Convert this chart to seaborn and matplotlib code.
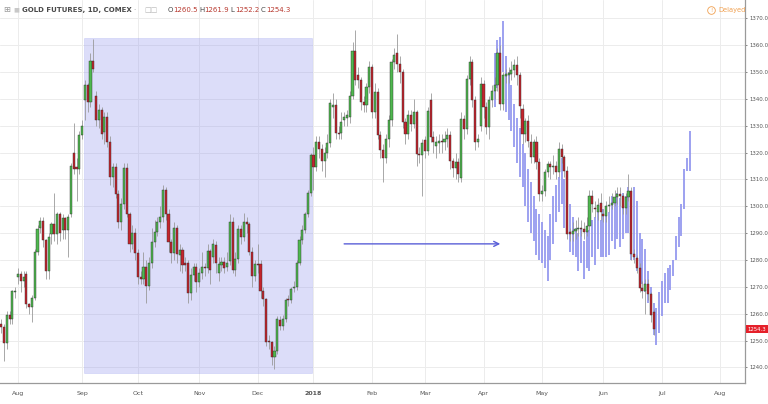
import matplotlib
matplotlib.use("Agg")
import matplotlib.pyplot as plt
import matplotlib.transforms as mtransforms
from matplotlib.lines import Line2D
from matplotlib.patches import Rectangle
import numpy as np
import pandas as pd
import seaborn as sns

# ---------------------------------------------------------------------------
# Daily OHLC, GOLD FUTURES (COMEX), first bar 2017-07-24
# ---------------------------------------------------------------------------
first_day = "2017-07-24"
holidays = ["2017-09-04", "2017-11-23", "2017-12-25", "2018-01-01", "2018-01-15",
            "2018-02-19", "2018-03-30", "2018-05-28", "2018-07-04"]

opens = [
    1256, 1255, 1249, 1259.6, 1258, 1268, 1273.5, 1274.7, 1272, 1274.7,
    1263.7, 1262.5, 1266, 1283, 1292, 1294.6, 1287.5, 1276, 1289.7, 1293.4,
    1289.7, 1297, 1291, 1295.6, 1291, 1297, 1320, 1314.5, 1314, 1326.6,
    1339.6, 1345, 1339, 1354, 1341, 1332, 1336, 1327.5, 1333.4, 1324,
    1311, 1314.6, 1304.7, 1294, 1300.7, 1314.4, 1297.3, 1286, 1290, 1282.6,
    1273.7, 1273, 1277.4, 1270.5, 1279, 1286.7, 1290.4, 1294.2, 1296, 1306.2,
    1297.3, 1286.7, 1282.6, 1292, 1282, 1283.9, 1278.7, 1278.7, 1267.6, 1274.3,
    1277.4, 1271.9, 1275.3, 1277.4, 1277, 1283.3,
    1281, 1285.7, 1275, 1278, 1279.2, 1277.5, 1279.5, 1294, 1276.3, 1280.4,
    1291.6, 1288.5, 1294, 1293.5, 1283, 1274, 1278.5, 1278.5, 1268.6, 1265.5,
    1250, 1249.3, 1243.7, 1246.2, 1257.6, 1255.5, 1258, 1265.5, 1265, 1269.5,
    1270, 1279, 1287.5, 1291.2, 1297.2, 1305, 1319, 1314.8,
    1324, 1321.5, 1317, 1320, 1323.4, 1337, 1337.6, 1327.3, 1327.3, 1332,
    1333, 1333.3, 1341, 1357.9, 1349, 1347, 1339, 1337.6, 1344.5, 1352,
    1335, 1342.6, 1326.5, 1321, 1317.8, 1325.2, 1332, 1353.8, 1357, 1353,
    1350, 1331.4, 1327, 1334, 1330.8, 1335, 1319.6,
    1319, 1324.6, 1320.6, 1339.4, 1325.9, 1322.5, 1323.5, 1324.3, 1324, 1325,
    1326.6, 1316.9, 1314.4, 1316.3, 1310.6, 1332.5, 1328.8, 1347.5, 1353.8, 1339.4,
    1324,
    1330, 1345.6, 1337, 1329.4, 1339.4, 1343, 1345, 1357, 1338, 1348.5,
    1349, 1349.4, 1350.6, 1352.5, 1348.8, 1336.3, 1326.9, 1331.9, 1323.8, 1318.2,
    1323.8, 1316.3, 1304.5, 1305.7, 1312.6, 1315.7, 1314.5, 1315, 1312.6, 1321.3,
    1318.2, 1313.2, 1290, 1289.8, 1290.8, 1291.4, 1292, 1291.5, 1290.4, 1292.7,
    1303.9, 1299.5, 1297.7, 1301.4, 1297, 1296.4, 1300, 1300.6, 1301.4, 1303.3,
    1304.5, 1303.9, 1299.5, 1303.3, 1305.7, 1282.1, 1280.9, 1277.1, 1269.7, 1268.4,
    1271, 1267.2, 1260.5,
]
highs = [
    1258, 1256, 1261, 1261, 1269, 1270, 1277, 1276, 1276, 1276,
    1264, 1267, 1284, 1293, 1296, 1296, 1288, 1290, 1294, 1305,
    1298, 1298, 1297, 1296, 1297, 1316, 1331, 1318, 1328, 1332,
    1347, 1346, 1357, 1362.4, 1343, 1338, 1337, 1335, 1335, 1326,
    1316, 1316, 1306, 1303, 1316, 1316, 1298, 1293, 1292, 1284,
    1276, 1283, 1280, 1281, 1292, 1295, 1296, 1300, 1308, 1307,
    1299, 1288, 1294, 1293, 1286, 1285, 1281, 1280, 1277, 1279,
    1279, 1277, 1283, 1279, 1286, 1284,
    1288, 1287, 1281, 1281, 1281, 1283, 1297, 1296, 1283, 1293,
    1293, 1297.6, 1296, 1294, 1285, 1280, 1286, 1280, 1270, 1266,
    1252, 1250, 1248, 1259, 1259, 1259.5, 1266, 1267, 1270, 1272,
    1280, 1289, 1293, 1298, 1306, 1320, 1322, 1326,
    1326, 1323, 1322, 1327, 1340, 1342, 1340, 1330, 1335, 1335,
    1336, 1343, 1361, 1365.6, 1352, 1348, 1341, 1346, 1354, 1353,
    1346, 1344, 1328, 1323, 1327, 1334, 1355, 1359, 1364, 1356,
    1351, 1333, 1336, 1336, 1340, 1336, 1322,
    1325, 1326, 1337, 1342, 1328, 1326, 1327, 1327, 1328, 1329,
    1328, 1318, 1320, 1318, 1335, 1334, 1349, 1356, 1355, 1341,
    1327,
    1348, 1347, 1339, 1341, 1345, 1348, 1359, 1360, 1350, 1351,
    1352, 1354, 1355, 1356, 1350, 1338, 1333, 1334, 1327, 1325,
    1326, 1318, 1308, 1314, 1317, 1317, 1319, 1317, 1324, 1323,
    1319, 1315, 1292, 1294, 1295, 1296, 1295, 1294, 1296, 1306,
    1306, 1302, 1303, 1305, 1299, 1302, 1304, 1305, 1306, 1307,
    1307, 1305, 1305, 1312, 1307, 1284, 1282, 1279, 1272, 1273,
    1273, 1268, 1261.9,
]
lows = [
    1253, 1242.5, 1247, 1256, 1256, 1266, 1271, 1268, 1270, 1262,
    1260, 1257, 1265, 1282, 1290, 1285, 1273, 1273, 1286, 1287,
    1286, 1287, 1288, 1288, 1281, 1296, 1312, 1302, 1312, 1325,
    1332, 1335, 1337, 1350, 1330, 1329, 1325, 1323, 1322, 1308,
    1307, 1303, 1292, 1291, 1299, 1296, 1283, 1284, 1280, 1271,
    1271, 1271, 1264, 1269, 1277, 1285, 1289, 1292, 1294, 1295,
    1283, 1279, 1280, 1279, 1276, 1275, 1276, 1264, 1265, 1272,
    1268, 1270, 1273, 1274, 1275, 1271,
    1279, 1275, 1272, 1276, 1275, 1276, 1278, 1275, 1274, 1279,
    1286, 1287, 1290, 1282, 1270, 1272, 1275, 1266, 1263, 1248,
    1247, 1241, 1239.5, 1245, 1254, 1254, 1257, 1263, 1264, 1268,
    1269, 1278, 1286, 1290, 1296, 1304, 1306, 1313,
    1318, 1313, 1311, 1318, 1322, 1333, 1325, 1325, 1325, 1330,
    1330, 1331, 1340, 1345, 1344, 1336, 1335, 1335, 1342, 1333,
    1333, 1325, 1318, 1309, 1316, 1322, 1330, 1351, 1350, 1346,
    1329, 1323, 1325, 1328, 1329, 1315, 1316,
    1304, 1318, 1319, 1324, 1320, 1318, 1320, 1320, 1321, 1322,
    1314, 1311, 1310, 1309, 1309, 1325, 1327, 1345, 1337, 1321,
    1322,
    1328, 1333, 1327, 1325, 1337, 1340, 1343, 1336, 1336, 1346,
    1346, 1347, 1348, 1345, 1333, 1323, 1324, 1322, 1316, 1316,
    1314, 1302, 1302, 1304, 1311, 1310, 1312, 1310, 1311, 1316,
    1311, 1288, 1287, 1287, 1288, 1289, 1289, 1288, 1289, 1291,
    1298, 1296, 1295, 1295, 1294, 1294, 1298, 1299, 1300, 1301,
    1300, 1297, 1297, 1302, 1280, 1279, 1275, 1268, 1266, 1260,
    1265, 1257, 1252.2,
]
closes = [
    1255, 1249, 1259.6, 1258, 1268.4, 1268.6, 1274.7, 1272, 1273.5, 1263.7,
    1262.5, 1266, 1283, 1291.6, 1294.6, 1287.5, 1276, 1288.5, 1293.4, 1289.7,
    1297, 1290, 1295.6, 1291, 1295.9, 1315, 1314, 1314, 1326.6, 1330,
    1345, 1339, 1354, 1351.2, 1332, 1336, 1327, 1333.4, 1324, 1311,
    1314.6, 1304.7, 1294, 1300.7, 1314.4, 1297.3, 1286, 1290, 1282.6, 1273.7,
    1273, 1277.4, 1270.5, 1279, 1286.7, 1290.4, 1294.2, 1296, 1306.2, 1297.3,
    1286.7, 1282.6, 1292, 1282.1, 1283.9, 1278, 1278, 1267.6, 1274.3, 1277.4,
    1271.9, 1275.3, 1277.4, 1277, 1283.3, 1276.4,
    1286, 1278.8, 1278.5, 1279.2, 1277.1, 1279, 1294, 1276.3, 1280.4, 1291.6,
    1288.5, 1294, 1293.5, 1283, 1274, 1278.5, 1278, 1268.6, 1265.5, 1249.3,
    1249.3, 1243.7, 1246.2, 1258, 1255.5, 1258, 1265, 1265, 1269.2, 1270,
    1279, 1287.5, 1291.2, 1297.2, 1305, 1319, 1314.8, 1324,
    1321.5, 1317, 1320, 1323.4, 1338.5, 1337.6, 1327.3, 1327, 1331.4, 1333.3,
    1333.8, 1341, 1357.9, 1347, 1347, 1339, 1337.6, 1344.5, 1352, 1335,
    1342.6, 1326.5, 1321, 1317.8, 1325.2, 1332, 1353.8, 1356.3, 1353, 1350,
    1331.4, 1327, 1334, 1330.8, 1335, 1319.6, 1319,
    1323.4, 1320.6, 1335.6, 1325.9, 1323.8, 1323.8, 1324.3, 1324, 1325, 1326.6,
    1316.9, 1314.4, 1316.3, 1311.9, 1332.5, 1328.8, 1347.5, 1353.8, 1339.4, 1323.8,
    1325,
    1345.6, 1337, 1329.4, 1339.4, 1343, 1345, 1357, 1338, 1348.8, 1349.4,
    1349.5, 1350.6, 1352.5, 1348.8, 1337.5, 1326.9, 1331.9, 1324.4, 1318.2, 1323.8,
    1316.3, 1304.5, 1305.7, 1312.6, 1315.7, 1314.5, 1315, 1312.6, 1321.3, 1318.2,
    1313.2, 1289.8, 1289.8, 1290.8, 1291.4, 1292, 1291.5, 1290.4, 1292.7, 1303.9,
    1301, 1299, 1300.5, 1297.7, 1296.4, 1300, 1300.6, 1301.4, 1303.3, 1304.5,
    1303.9, 1299.5, 1303.3, 1305.7, 1282.1, 1281, 1277.1, 1269.7, 1268.4, 1271,
    1267.2, 1259.7, 1254.3,
]

# projected bars pattern (high / low), first bar 2018-04-06
blue_start = "2018-04-06"
blue_highs = [
    1357, 1362, 1363, 1369, 1356, 1350, 1345, 1338, 1333, 1329,
    1323, 1320, 1314, 1309, 1304, 1299, 1297, 1294, 1291, 1289,
    1297, 1304, 1308, 1311, 1318, 1310, 1306, 1301, 1296, 1292,
    1290, 1292, 1287, 1291, 1291, 1295, 1296, 1299, 1295, 1299,
    1298, 1298, 1304, 1303, 1305, 1303, 1305, 1304, 1307, 1305,
    1307, 1302, 1290, 1288, 1284, 1276, 1270, 1264, 1262, 1268,
    1272, 1275, 1277, 1278, 1280, 1289, 1296, 1301, 1314, 1318,
    1328,
]
blue_lows = [
    1337, 1344, 1342, 1350, 1335, 1332, 1328, 1322, 1316, 1311,
    1307, 1300, 1294, 1290, 1287, 1282, 1280, 1279, 1277, 1272,
    1280, 1286, 1294, 1298, 1301, 1292, 1290, 1283, 1282, 1281,
    1276, 1279, 1273, 1277, 1276, 1281, 1278, 1284, 1281, 1281,
    1281, 1282, 1287, 1284, 1288, 1285, 1288, 1290, 1290, 1280,
    1280, 1276, 1275, 1271, 1268, 1264, 1260, 1252, 1248.5, 1253,
    1259, 1264, 1264, 1269, 1274, 1280, 1285, 1289, 1299, 1313,
    1313,
]

zone_dates = ("2017-09-05", "2017-12-29")
zone_prices = (1238, 1362.7)
arrow_dates = ("2018-01-17", "2018-04-11")
arrow_price = 1286

header = "GOLD FUTURES, 1D, COMEX"
ohlc_letters = ["O", "H", "L", "C"]
ohlc_values = ["1260.5", "1261.9", "1252.2", "1254.3"]
last_price = 1254.3

GREEN = "#4fb84f"
RED = "#c4242c"
BLUE = "#9195ee"
GRID = "#ececec"
TXT = "#555555"
ORANGE = "#f0a050"

# ---------------------------------------------------------------------------
sns.set_style("white")
plt.rcParams["font.family"] = ["DejaVu Sans"]

days = pd.bdate_range(first_day, "2018-08-31", freq="C", holidays=holidays)


def to_x(date):
    return int(days.get_indexer([pd.Timestamp(date)])[0])


df = pd.DataFrame({"open": opens, "high": highs, "low": lows, "close": closes})
df["x"] = np.arange(len(df))
df["up"] = df["close"] >= df["open"]
df["bottom"] = df[["open", "close"]].min(axis=1)
df["body"] = (df["close"] - df["open"]).abs().clip(lower=0.45)

fig = plt.figure(figsize=(7.68, 4.04), dpi=100)
W, H = 768, 404
ax = fig.add_axes([0, 21 / H, 745 / W, 383 / H])

# month ticks (first trading day of each full month)
month_first = days.to_series().groupby(days.to_period("M")).first()
month_first = month_first[month_first.dt.day <= 3]
tick_x = [to_x(d) for d in month_first]
tick_lab = ["2018" if d.month == 1 else d.strftime("%b") for d in month_first]

ax.set_xlim(-0.46, 266.8)
ax.set_ylim(1234.2, 1376.8)
ax.set_xticks(tick_x)
ax.set_xticklabels(tick_lab)
for lab in ax.get_xticklabels():
    if lab.get_text() == "2018":
        lab.set_fontweight("bold")
        lab.set_color("#333333")
yt = np.arange(1240, 1371, 10)
ax.set_yticks(yt)
ax.set_yticklabels([f"{v:.1f}" for v in yt])
ax.yaxis.tick_right()
ax.grid(True, color=GRID, linewidth=0.7, zorder=0)
ax.set_axisbelow(True)

for side in ["top", "left"]:
    ax.spines[side].set_visible(False)
for side in ["right", "bottom"]:
    ax.spines[side].set_color("#9a9a9a")
    ax.spines[side].set_linewidth(0.9)
ax.tick_params(axis="y", labelsize=3.9, colors=TXT, length=1.5, width=0.5, pad=1.5)
ax.tick_params(axis="x", labelsize=4.5, colors=TXT, length=2, width=0.5, pad=4)

# highlighted zone
zx0, zx1 = to_x(zone_dates[0]) - 0.4, to_x(zone_dates[1]) + 0.6
ax.add_patch(Rectangle((zx0, zone_prices[0]), zx1 - zx0, zone_prices[1] - zone_prices[0],
                       facecolor=(0.55, 0.57, 0.93, 0.3), edgecolor=(0.55, 0.57, 0.93, 0.25),
                       linewidth=0.6, zorder=1))

# projected bars
bx = to_x(blue_start) + np.arange(len(blue_highs))
ax.vlines(bx, blue_lows, blue_highs, color=BLUE, linewidth=1.25, zorder=2.5)

# candles
ax.vlines(df["x"], df["low"], df["high"], color="#9a9a9a", linewidth=0.6, zorder=3)
ax.bar(df["x"], df["body"], bottom=df["bottom"], width=0.76,
       color=np.where(df["up"], GREEN, RED), edgecolor="#2d2d2d", linewidth=0.3, zorder=4)

# arrow
ax.annotate("", xy=(to_x(arrow_dates[1]), arrow_price), xytext=(to_x(arrow_dates[0]), arrow_price),
            arrowprops=dict(arrowstyle="->", color="#5a5fd8", lw=1.0, mutation_scale=9),
            zorder=6)

# last price tag
trans = mtransforms.blended_transform_factory(ax.transAxes, ax.transData)
ax.text(1.003, last_price, f"{last_price:.1f}", transform=trans, ha="left", va="center",
        fontsize=3.9, color="white",
        bbox=dict(boxstyle="square,pad=0.3", facecolor="#e5202a", edgecolor="none"), zorder=7)


# header
def px(x, y):
    return x / W, 1 - y / H


fig.text(*px(3, 10), "⊞", fontsize=6, color="#999999", va="center")
fig.text(*px(13, 10), "■", fontsize=4.5, color="#c8c8c8", va="center")
fig.text(*px(22, 10), header, fontsize=5.0, color="#4a4a4a", fontweight="bold", va="center")
fig.text(*px(133, 10), "·", fontsize=5, color="#999999", va="center")
fig.text(*px(144, 10), "□□", fontsize=5, color="#b5b5b5", va="center")
ohlc_pos = [168, 199, 230, 261]
for xp, letter, val in zip(ohlc_pos, ohlc_letters, ohlc_values):
    fig.text(*px(xp, 10), letter, fontsize=5, color="#444444", va="center")
    fig.text(*px(xp + 5, 10), val, fontsize=5, color="#b8392f", va="center")

fig.add_artist(Line2D([711 / W], [1 - 10 / H], marker="o", markersize=5.5,
                      markerfacecolor="none", markeredgecolor=ORANGE, markeredgewidth=0.6,
                      transform=fig.transFigure))
fig.text(*px(711, 10), "!", fontsize=4, color=ORANGE, va="center", ha="center")
fig.text(*px(718, 10), "Delayed", fontsize=4.8, color=ORANGE, va="center")

fig.savefig("out.png", dpi=100)
